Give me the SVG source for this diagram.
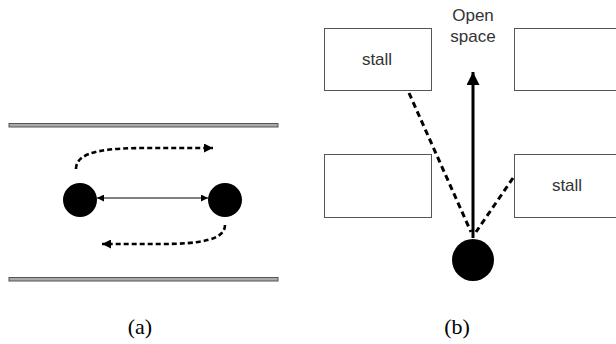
<svg xmlns="http://www.w3.org/2000/svg" width="616" height="344" viewBox="0 0 616 344">
<style>
.bar{fill:#aaa;stroke:#555;stroke-width:1}
.dot{fill:#000}
.box{fill:#fff;stroke:#555;stroke-width:1}
.lbl{font-family:"Liberation Sans",Arial,sans-serif;font-size:17px;fill:#333;text-anchor:middle}
.cap{font-family:"Liberation Serif","Times New Roman",serif;font-size:22px;fill:#000;text-anchor:middle}
.dash{fill:none;stroke:#000;stroke-width:2.6;stroke-dasharray:5,3}
.dashb{fill:none;stroke:#000;stroke-width:3;stroke-dasharray:6,4}
</style>
<defs>
<marker id="ah" viewBox="0 0 10 10" refX="10" refY="5" markerWidth="11" markerHeight="9" markerUnits="userSpaceOnUse" orient="auto"><path d="M0,0L10,5L0,10z" fill="#000"/></marker>
<marker id="sm" viewBox="0 0 10 10" refX="10" refY="5" markerWidth="7" markerHeight="7" markerUnits="userSpaceOnUse" orient="auto-start-reverse"><path d="M0,0L10,5L0,10z" fill="#000"/></marker>
<marker id="big" viewBox="0 0 10 10" refX="10" refY="5" markerWidth="19" markerHeight="13" markerUnits="userSpaceOnUse" orient="auto"><path d="M0,0L10,5L0,10z" fill="#000"/></marker>
</defs>
<g id="panel-a">
<rect id="wall-top" class="bar" x="9" y="123.5" width="269" height="3.5"/>
<rect id="wall-bottom" class="bar" x="9" y="277.5" width="269" height="3.5"/>
<g id="robot-a1"><circle class="dot" cx="80" cy="200" r="17"/></g>
<g id="robot-a2"><circle class="dot" cx="225" cy="200" r="17"/></g>
</g>
<g id="panel-b">
<g id="stall-tl"><rect class="box" x="324.5" y="28.5" width="107" height="62"/><text class="lbl" x="377" y="65">stall</text></g>
<g id="box-tr"><rect class="box" x="514.5" y="28.5" width="110" height="62"/></g>
<g id="box-bl"><rect class="box" x="324.5" y="154.5" width="107" height="63"/></g>
<g id="stall-br"><rect class="box" x="514.5" y="154.5" width="110" height="63"/><text class="lbl" x="567" y="191">stall</text></g>
<g id="robot-b"><circle class="dot" cx="473" cy="260" r="21"/></g>
<g id="open-space"><text class="lbl" x="473" y="21">Open</text><text class="lbl" x="473" y="42">space</text></g>
</g>
<g id="connectors">
<line x1="97" y1="198" x2="208" y2="198" stroke="#000" stroke-width="1.2" marker-start="url(#sm)" marker-end="url(#sm)"/>
<path class="dash" d="M76,169 C76,150 110,148 150,148 L213,148" marker-end="url(#ah)"/>
<path class="dash" d="M225,225 C225,240 200,244 160,244 L102,244" marker-end="url(#ah)"/>
<line x1="473" y1="238" x2="473" y2="72" stroke="#000" stroke-width="3" marker-end="url(#big)"/>
<line class="dashb" x1="409" y1="93" x2="471" y2="232"/>
<line class="dashb" x1="513" y1="178" x2="476" y2="232"/>
</g>
<text class="cap" x="140" y="334">(a)</text>
<text class="cap" x="457" y="334">(b)</text>
</svg>
